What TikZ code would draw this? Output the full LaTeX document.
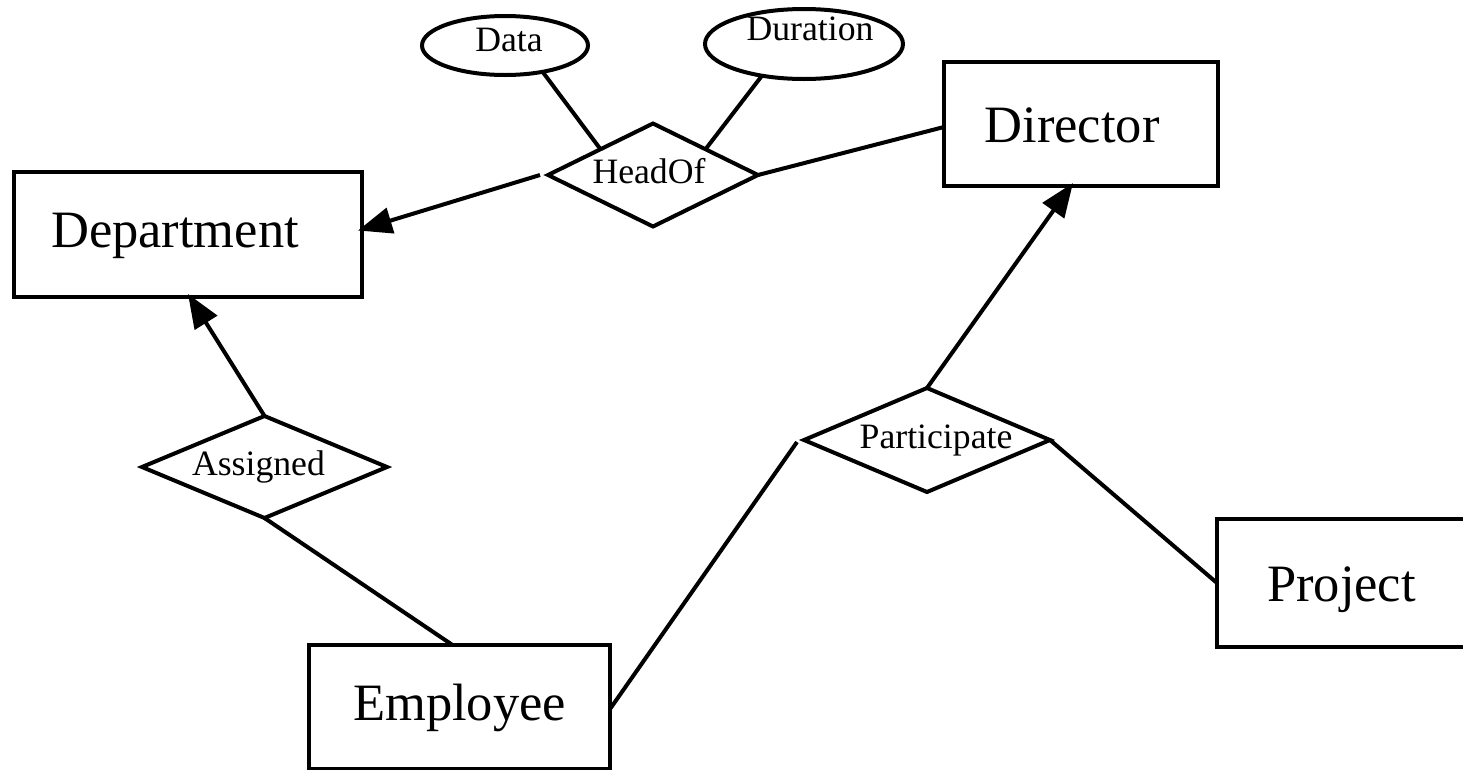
\documentclass[tikz,border=0pt]{standalone}
\usepackage{fontspec}
\setmainfont{Liberation Serif}
\usetikzlibrary{shapes.geometric,arrows.meta,calc}
\begin{document}
\begin{tikzpicture}[x=1pt,y=-1pt,
  entity/.style={draw, rectangle, inner sep=0pt, outer sep=0pt, line width=4pt},
  rel/.style={draw, diamond, inner sep=0pt, outer sep=0pt, line width=4pt},
  attr/.style={draw, ellipse, inner sep=0pt, outer sep=0pt, line width=4pt},
  big/.style={font=\fontsize{52.5pt}{60pt}\selectfont},
  small/.style={font=\fontsize{35.7pt}{40pt}\selectfont},
  conn/.style={line width=4pt},
  arr/.style={line width=4pt, -{Triangle[length=34pt,width=26pt]}}
]
\useasboundingbox (0,0) rectangle (1463,769);
\clip (0,0) rectangle (1463,769);

% entities
\node[entity, minimum width=348pt, minimum height=125pt,
      label={[big, xshift=-13pt, yshift=-1pt]center:Department}] (dept) at (188,234.5) {};
\node[entity, minimum width=274pt, minimum height=124pt,
      label={[big, xshift=-9pt, yshift=-1pt]center:Director}] (director) at (1081,124) {};
\node[entity, minimum width=301pt, minimum height=124pt,
      label={[big, yshift=-1pt]center:Employee}] (employee) at (459.5,707) {};
\node[entity, minimum width=253pt, minimum height=128pt,
      label={[big, xshift=-2pt, yshift=-7pt]center:Project}] (project) at (1343.5,583) {};

% relationships
\node[rel, minimum width=210pt, minimum height=103pt,
      label={[small, xshift=-4pt, yshift=4pt]center:HeadOf}] (headof) at (653,175) {};
\node[rel, minimum width=245pt, minimum height=102pt,
      label={[small, xshift=-6pt]center:Assigned}] (assigned) at (264.5,467) {};
\node[rel, minimum width=246pt, minimum height=104pt,
      label={[small, xshift=9pt]center:Participate}] (participate) at (927,440) {};

% attributes
\node[attr, minimum width=166pt, minimum height=59pt,
      label={[small, xshift=4pt, yshift=6pt]center:Data}] (data) at (505,45.5) {};
\node[attr, minimum width=198pt, minimum height=70pt,
      label={[small, xshift=6pt, yshift=15pt]center:Duration}] (duration) at (804,44) {};

% connectors
\draw[conn] (data.-35.5) -- ($(headof.west)!0.5!(headof.north)$);
\draw[conn] (duration.-143) -- ($(headof.east)!0.5!(headof.north)$);
\draw[arr] ([xshift=-8pt]headof.west) -- ([xshift=-4pt,yshift=4pt]dept.east);
\draw[conn] (headof.east) -- ([yshift=-3pt]director.west);
\draw[arr] (assigned.north) -- ([yshift=3pt]dept.south);
\draw[conn] (assigned.south) -- ([xshift=-7pt]employee.north);
\draw[conn] ([yshift=-2pt]employee.east) -- ([xshift=-7pt,yshift=-2pt]participate.west);
\draw[arr] (participate.north) -- ([xshift=-8pt,yshift=3pt]director.south);
\draw[conn] (participate.east) -- (project.west);
\end{tikzpicture}
\end{document}
